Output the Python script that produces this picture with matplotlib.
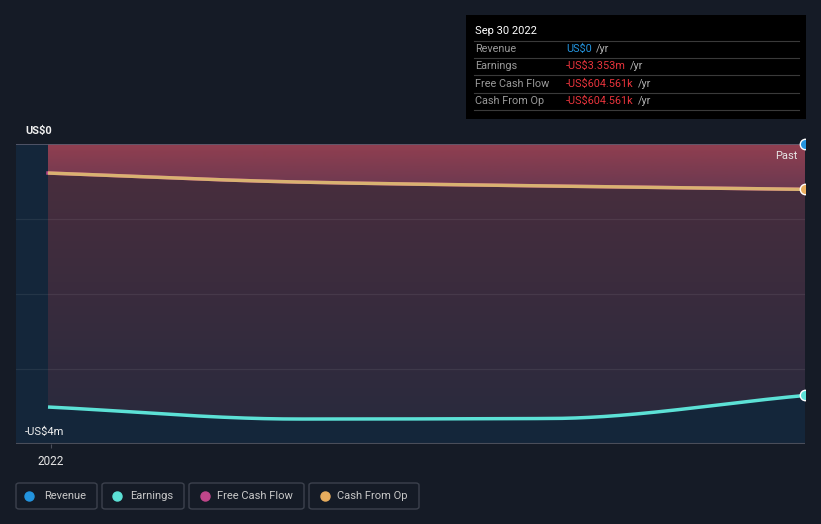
import numpy as np
import matplotlib
matplotlib.use("Agg")
import matplotlib.pyplot as plt
import matplotlib.dates as mdates
from matplotlib.patches import Rectangle, FancyBboxPatch
from matplotlib.lines import Line2D
import datetime as dt

plt.rcParams['font.family'] = ['Roboto', 'DejaVu Sans']

# ---- data (US$) ----
dates = [dt.date(2021, 12, 31), dt.date(2022, 3, 31), dt.date(2022, 6, 30), dt.date(2022, 9, 30)]
revenue = [0.0, 0.0, 0.0, 0.0]
earnings = [-3.507e6, -3.667e6, -3.660e6, -3.353e6]
free_cash_flow = [-0.387e6, -0.507e6, -0.560e6, -0.6046e6]
cash_from_op = [-0.387e6, -0.507e6, -0.560e6, -0.6046e6]

tick_labels = ["2022"]
y_labels = ["US$0", "-US$4m"]
legend_names = ["Revenue", "Earnings", "Free Cash Flow", "Cash From Op"]
tooltip_title = "Sep 30 2022"
tooltip_rows = [("Revenue", "US$0"), ("Earnings", "-US$3.353m"),
                ("Free Cash Flow", "-US$604.561k"), ("Cash From Op", "-US$604.561k")]

# ---- colors ----
BG = "#151b26"
AX_BG = "#14263a"
C_REV = "#2394df"
C_EARN = "#5ce1d6"
C_FCF = "#c0468a"
C_CFO = "#d9b271"

W, H = 821, 524
fig = plt.figure(figsize=(W / 100, H / 100), dpi=100, facecolor=BG)


def fx(px):
    return px / W


def fy(py):
    return 1 - py / H


ax = fig.add_axes([fx(16), fy(444), fx(805) - fx(16), fy(144) - fy(444)])
ax.set_facecolor(AX_BG)
for s in ax.spines.values():
    s.set_visible(False)

xd = mdates.date2num(dates)


def pchip(x, y, xs):
    x = np.asarray(x, float); y = np.asarray(y, float)
    h = np.diff(x); d = np.diff(y) / h
    n = len(x); m = np.zeros(n)
    for k in range(1, n - 1):
        if d[k - 1] * d[k] > 0:
            w1 = 2 * h[k] + h[k - 1]; w2 = h[k] + 2 * h[k - 1]
            m[k] = (w1 + w2) / (w1 / d[k - 1] + w2 / d[k])
    m[0] = d[0]; m[-1] = d[-1]
    out = np.empty_like(xs)
    for i, xv in enumerate(xs):
        k = min(max(np.searchsorted(x, xv) - 1, 0), n - 2)
        t = (xv - x[k]) / h[k]
        h00 = 2 * t**3 - 3 * t**2 + 1; h10 = t**3 - 2 * t**2 + t
        h01 = -2 * t**3 + 3 * t**2; h11 = t**3 - t**2
        out[i] = h00 * y[k] + h10 * h[k] * m[k] + h01 * y[k + 1] + h11 * h[k] * m[k + 1]
    return out


xs = np.linspace(xd[0], xd[-1], 400)
e_s = pchip(xd, earnings, xs)
c_s = pchip(xd, cash_from_op, xs)
f_s = pchip(xd, free_cash_flow, xs)

x_left = xd[0] - 32 / (757 / 273)
ax.set_xlim(x_left, xd[-1])
ax.set_ylim(-4e6, 0)

# grid
for yv in [-1e6, -2e6, -3e6]:
    ax.axhline(yv, color="#ffffff", alpha=0.07, lw=0.9, zorder=4)
ax.axhline(0, color="#5a5c6e", lw=1.2, zorder=6)
ax.axhline(-4e6, color="#4a4e5a", lw=1.5, zorder=6)


def grad_fill(ytop_arr, ybot_arr, c_top, c_bot, y0, y1, z):
    poly = ax.fill_between(xs, ytop_arr, ybot_arr, color="none", lw=0, zorder=z)
    ct = np.array(matplotlib.colors.to_rgb(c_top)); cb = np.array(matplotlib.colors.to_rgb(c_bot))
    t = np.linspace(0, 1, 256)[:, None]
    img = (ct * (1 - t) + cb * t)[:, None, :]
    im = ax.imshow(img, extent=[xd[0], xd[-1], y1, y0], aspect="auto", zorder=z, origin="upper",
                   interpolation="bilinear")
    im.set_clip_path(poly.get_paths()[0], transform=ax.transData)


# earnings area (0 -> earnings)
grad_fill(np.zeros_like(xs), e_s, "#4c2e3e", "#2a2a3d", 0, -3.7e6, 2)
# cash flow area (0 -> cfo)
grad_fill(np.zeros_like(xs), c_s, "#923f50", "#6a3950", 0, -0.62e6, 3)

ax.plot(xs, e_s, color=C_EARN, lw=2.5, zorder=5, solid_capstyle="butt")
ax.plot(xs, f_s, color=C_FCF, lw=2.5, zorder=5)
ax.plot(xs, c_s, color=C_CFO, lw=2.5, zorder=5, solid_capstyle="butt")

# end markers (clipped on the right at the chart edge)
clip_rect = Rectangle((0, 0), fx(805), 1, transform=fig.transFigure, visible=False)
fig.add_artist(clip_rect)
for val, col in [(revenue[-1], C_REV), (cash_from_op[-1], "#e8ad5e"), (earnings[-1], C_EARN)]:
    mk, = ax.plot([xd[-1]], [val], "o", ms=7.5, color=col, mec="white", mew=1.0, zorder=8)
    mk.set_clip_on(True)
    mk.set_clip_path(clip_rect)

# ticks
ax.set_xticks([mdates.date2num(dt.date(2022, 1, 1))])
ax.set_xticklabels(tick_labels, color="#e6e6e6", fontsize=8.5)
ax.tick_params(axis="x", length=3, color="#4a4e5a", pad=5)
ax.set_yticks([])

fig.text(fx(25), fy(131), y_labels[0], color="#f0f0f0", fontsize=8, fontweight="semibold", va="center", ha="left")
fig.text(fx(25), fy(432), y_labels[1], color="#f0f0f0", fontsize=8, va="center", ha="left", zorder=10)
fig.text(fx(797), fy(156), "Past", color="#e6e6e6", fontsize=8, va="center", ha="right")

# tooltip
fig.add_artist(Rectangle((fx(466), fy(119)), fx(806) - fx(466), fy(15) - fy(119),
                         transform=fig.transFigure, facecolor="#000000", edgecolor="none"))
fig.text(fx(475), fy(31), tooltip_title, color="#ffffff", fontsize=8, va="center", ha="left")
for yy in [41, 58, 75, 93, 110]:
    fig.add_artist(Line2D([fx(474), fx(799)], [fy(yy), fy(yy)], transform=fig.transFigure,
                          color="#3a3a3a", lw=0.8))
renderer = fig.canvas.get_renderer()
row_y = [49, 66, 84, 101]
for (lab, val), yy in zip(tooltip_rows, row_y):
    fig.text(fx(475), fy(yy), lab, color="#9a9a9a", fontsize=7.8, va="center", ha="left")
    col = C_REV if not val.startswith("-") else "#e8343c"
    t = fig.text(fx(566), fy(yy), val, color=col, fontsize=7.8, va="center", ha="left")
    bb = t.get_window_extent(renderer)
    fig.text(fx(bb.x1 + 4), fy(yy), "/yr", color="#b0b0b0", fontsize=7.8, va="center", ha="left")

# legend
legend_boxes = [(16, 97, 29, 44), (102, 184, 117, 130), (189, 304, 205, 217), (309, 419, 325, 337)]
legend_cols = [C_REV, C_EARN, C_FCF, "#e8ad5e"]
for (x0, x1, dx, tx), name, col in zip(legend_boxes, legend_names, legend_cols):
    fig.add_artist(FancyBboxPatch((fx(x0), fy(509)), fx(x1) - fx(x0), fy(483) - fy(509),
                                  boxstyle="round,pad=0,rounding_size=0.004",
                                  transform=fig.transFigure, facecolor="none",
                                  edgecolor="#3c414d", lw=1.0))
    fig.add_artist(Line2D([fx(dx)], [fy(496)], marker="o", ms=6.5, color=col, mec=col,
                          transform=fig.transFigure))
    fig.text(fx(tx), fy(496), name, color="#c8c8c8", fontsize=8, va="center", ha="left")

fig.savefig("out.png", dpi=100, facecolor=BG)
